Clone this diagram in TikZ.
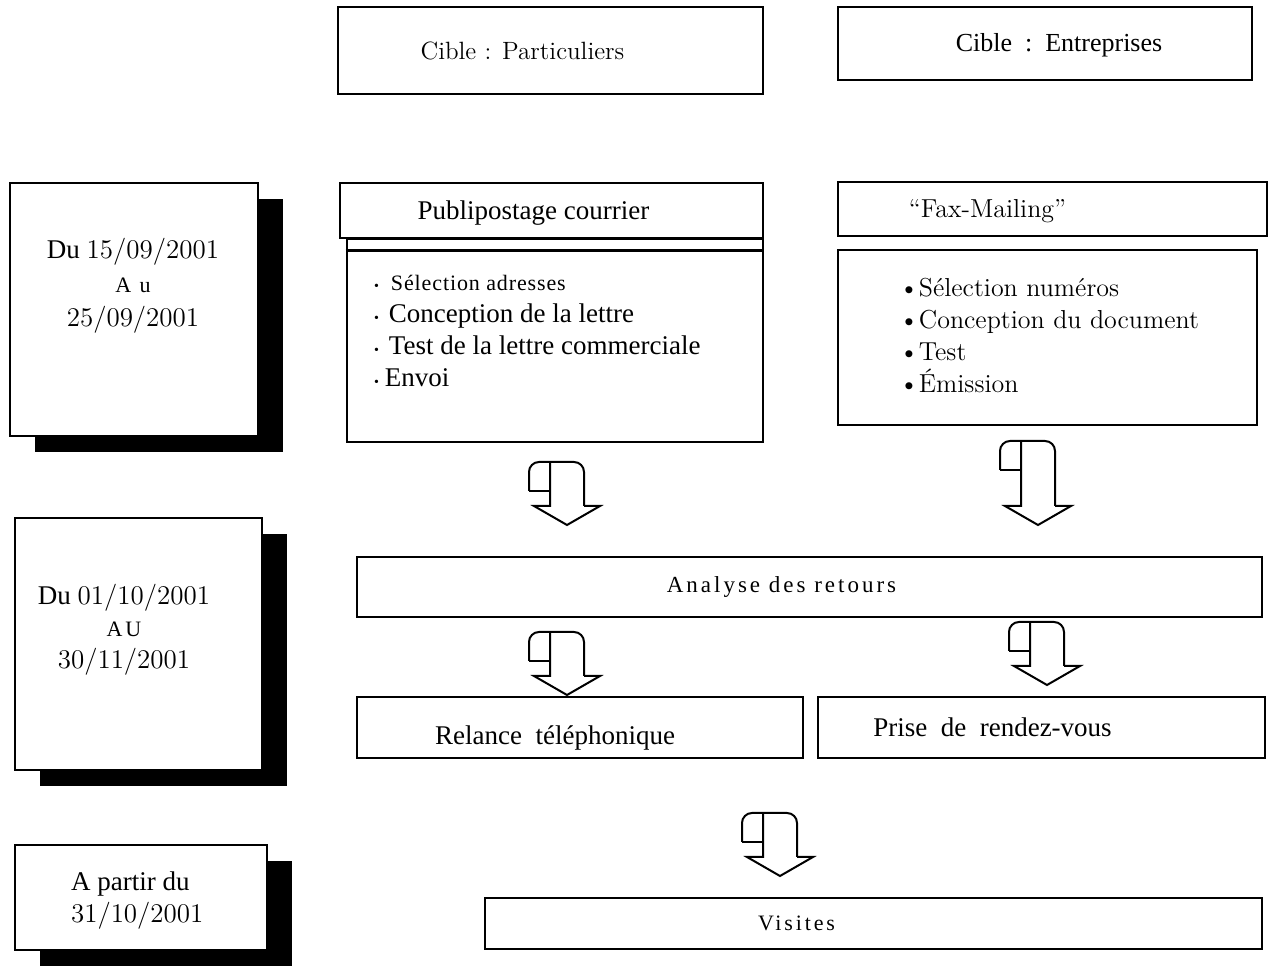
\documentclass[tikz,border=0pt]{standalone}
\usepackage{fontspec}
\setmainfont{Liberation Serif}
\newfontfamily\lmfont{Latin Modern Roman}
\newfontfamily\widefont[LetterSpace=13]{Liberation Serif}
\usetikzlibrary{shadows}

\begin{document}
\begin{tikzpicture}[
    x = 0.5pt, % one unit = one pixel of the scan
    y = -0.5pt, % y grows downwards
    line width = 1.4pt, % frame lines
    stem/.store in = \stem, % height of the arrow shaft
    stem = 44,
    curl/.pic = {
        \draw[line width=1pt, rounded corners=5pt] (-38,29) -- (-38,0) -- (17,0) -- (17,\stem);
        \draw[line width=1pt] (17,\stem) -- (33,\stem) -- (0,\stem+19) -- (-33,\stem) -- (-17,\stem) -- (-17,0);
        \draw[line width=1pt] (-17,29) -- (-38,29);
    }
]
\tikzstyle{frame}=[
    draw = black,
    fill = white,
    rectangle,
    inner sep = 0pt
]
\tikzstyle{datebox}=[
    frame,
    drop shadow = {shadow xshift=12.5pt, shadow yshift=-8pt, fill=black, opacity=1}
]
\tikzstyle{times}=[font=\fontsize{13.5}{16}\selectfont]
\tikzstyle{wide}=[font=\widefont\fontsize{11.5}{14}\selectfont]

\useasboundingbox (0,0) rectangle (1270,967);

% targets
\node[frame, minimum width=212.5pt, minimum height=43.5pt, font=\lmfont\fontsize{12.5}{15}\selectfont] (part) at (550.5,50.5) {Cible : Particuliers\hspace*{28pt}};
\node[frame, minimum width=207pt, minimum height=36.5pt, font=\fontsize{13}{16}\selectfont, text height=11pt] (entr) at (1045,43.5) {\hspace*{14pt}Cible\ \ :\ \ Entreprises};

% first period
\node[datebox, minimum width=124pt, minimum height=126.5pt] (d1) at (134,309.5) {};
\node[align=center, font=\fontsize{13.5}{17}\selectfont] (t1) at (133,286) {Du {\lmfont 15/09/2001}\\{\widefont\fontsize{11}{17}\selectfont A u}\\{\lmfont 25/09/2001}};

\node[frame, minimum width=211.5pt, minimum height=27.5pt, times, text height=12pt] (pub) at (551.5,210.5) {Publipostage\ courrier\hspace*{18pt}};
\node[frame, minimum width=208pt, minimum height=101.5pt] (publist) at (555,340.5) {};
\draw ([yshift=-6.5pt]publist.north west) -- ([yshift=-6.5pt]publist.north east);
\node[times, align=left, anchor=north west] (pubitems) at (366,267) {{\scriptsize\textbullet}\hspace{6pt}{\addfontfeature{LetterSpace=4}\fontsize{11}{16}\selectfont Sélection adresses}\\
{\scriptsize\textbullet}\hspace{5pt}Conception de la lettre\\
{\scriptsize\textbullet}\hspace{5pt}Test de la lettre commerciale\\
{\scriptsize\textbullet}\hspace{3pt}Envoi};

\node[frame, minimum width=214.5pt, minimum height=27pt, font=\lmfont\fontsize{13}{16}\selectfont, text height=11pt] (fax) at (1052.5,209) {“Fax-Mailing”\hspace*{65pt}};
\node[frame, minimum width=209.5pt, minimum height=87.5pt] (faxlist) at (1047.5,337.5) {};
\node[font=\lmfont\fontsize{13}{16}\selectfont, align=left, anchor=north west] (faxitems) at (891,270) {\textbullet Sélection numéros\\
\textbullet Conception du document\\
\textbullet Test\\
\textbullet Émission};

\pic at (567,462) {curl};
\pic[stem=65] at (1038,441) {curl};

% second period
\node[datebox, minimum width=123.5pt, minimum height=126pt] (d2) at (138.5,644) {};
\node[align=center, font=\fontsize{13.5}{16}\selectfont] (t2) at (124,630) {Du {\lmfont 01/10/2001}\\{\widefont\fontsize{11}{15}\selectfont AU}\\{\lmfont 30/11/2001}};

\node[frame, minimum width=452.5pt, minimum height=30pt, wide] (ana) at (809.5,587) {Analyse\ des\ retours\hspace*{28pt}};

\pic at (567,632) {curl};
\pic at (1047,622) {curl};

\node[frame, minimum width=223pt, minimum height=30.5pt, times, text height=19.5pt] (rel) at (580,727.5) {Relance\ \ téléphonique\hspace*{25pt}};
\node[frame, minimum width=223.5pt, minimum height=30.5pt, times] (rdv) at (1041.5,727.5) {Prise\ \ de\ \ rendez-vous\hspace*{49pt}};

\pic at (780,813) {curl};

% last period
\node[datebox, minimum width=126pt, minimum height=52.5pt] (d3) at (141,897.5) {};
\node[times, align=left, anchor=west] (t3) at (63,901) {A partir du\\{\lmfont 31/10/2001}};

\node[frame, minimum width=388.5pt, minimum height=25.5pt, font=\widefont\fontsize{11}{14}\selectfont] (vis) at (873.5,923.5) {Visites\hspace*{77pt}};

\end{tikzpicture}
\end{document}
